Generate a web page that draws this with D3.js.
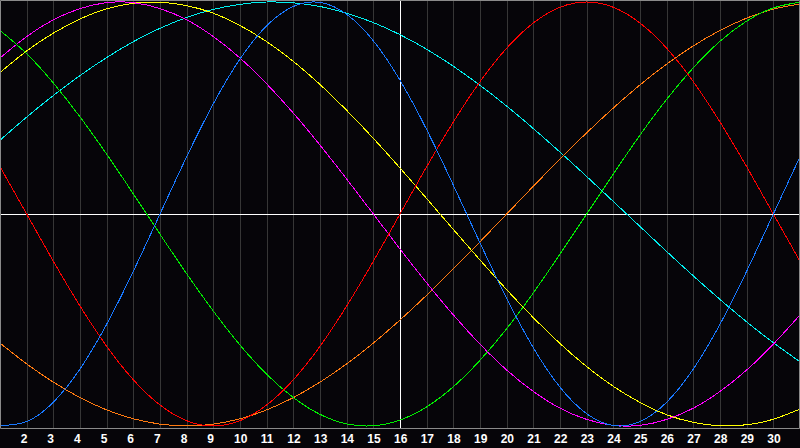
<!DOCTYPE html>
<html lang="en">
<head>
  <meta charset="utf-8" />
  <title>Biorhythm</title>
  <script src="https://d3js.org/d3.v7.min.js"></script>
  <style>
    body {
      margin: 0;
      background: #060509;
    }
    .tick-label {
      font-family: "Liberation Sans", Arial, sans-serif;
      font-size: 12px;
      font-weight: bold;
      fill: #ffffff;
    }
    .curve {
      shape-rendering: crispEdges;
    }
  </style>
</head>
<body>
  <svg width="800" height="448"></svg>
  <script>
    // days of the month shown on the chart
    const days = [1, 2, 3, 4, 5, 6, 7, 8, 9, 10, 11, 12, 13, 14, 15, 16,
      17, 18, 19, 20, 21, 22, 23, 24, 25, 26, 27, 28, 29, 30, 31];
    const tickDays = [2, 3, 4, 5, 6, 7, 8, 9, 10, 11, 12, 13, 14, 15, 16,
      17, 18, 19, 20, 21, 22, 23, 24, 25, 26, 27, 28, 29, 30];
    const today = 16;

    // one value per day (-1 .. 1)
    const physical = [-0.998, -0.979, -0.888, -0.731, -0.520, -0.270, 0, 0.270, 0.520, 0.731, 0.888,
      0.979, 0.998, 0.942, 0.817, 0.631, 0.398, 0.136, -0.136, -0.398, -0.631, -0.817, -0.942,
      -0.998, -0.979, -0.888, -0.731, -0.520, -0.270, 0, 0.270];
    const emotional = [0.223, 0, -0.223, -0.434, -0.624, -0.782, -0.901, -0.975, -1, -0.975, -0.901,
      -0.782, -0.624, -0.434, -0.223, 0, 0.223, 0.434, 0.624, 0.782, 0.901, 0.975, 1, 0.975,
      0.901, 0.782, 0.624, 0.434, 0.223, 0, -0.223];
    const intellectual = [0.866, 0.756, 0.618, 0.458, 0.282, 0.095, -0.095, -0.282, -0.458, -0.618,
      -0.756, -0.866, -0.945, -0.990, -0.999, -0.972, -0.910, -0.815, -0.690, -0.541, -0.372,
      -0.189, 0, 0.189, 0.372, 0.541, 0.690, 0.815, 0.910, 0.972, 0.999];
    const intuitive = [0.736, 0.837, 0.916, 0.969, 0.997, 0.997, 0.969, 0.916, 0.837, 0.736, 0.614,
      0.476, 0.325, 0.165, 0, -0.165, -0.325, -0.476, -0.614, -0.736, -0.837, -0.916, -0.969,
      -0.997, -0.997, -0.969, -0.916, -0.837, -0.736, -0.614, -0.476];
    const aesthetic = [0.667, 0.769, 0.853, 0.920, 0.968, 0.994, 0.999, 0.983, 0.947, 0.889, 0.813,
      0.720, 0.611, 0.489, 0.357, 0.217, 0.073, -0.073, -0.217, -0.357, -0.489, -0.611, -0.720,
      -0.813, -0.889, -0.947, -0.983, -0.999, -0.994, -0.968, -0.920];
    const awareness = [-0.609, -0.707, -0.793, -0.866, -0.924, -0.966, -0.991, -1, -0.991, -0.966,
      -0.924, -0.866, -0.793, -0.707, -0.609, -0.5, -0.383, -0.259, -0.131, 0, 0.131, 0.259,
      0.383, 0.5, 0.609, 0.707, 0.793, 0.866, 0.924, 0.966, 0.991];
    const spiritual = [0.348, 0.457, 0.559, 0.653, 0.738, 0.813, 0.876, 0.927, 0.965, 0.989, 1.000,
      0.996, 0.979, 0.947, 0.903, 0.846, 0.777, 0.697, 0.607, 0.509, 0.403, 0.292, 0.177, 0.059,
      -0.059, -0.177, -0.292, -0.403, -0.509, -0.607, -0.697];

    const seriesNames = ["spiritual", "awareness", "aesthetic", "intuitive", "intellectual", "emotional", "physical"];
    const seriesValues = [spiritual, awareness, aesthetic, intuitive, intellectual, emotional, physical];
    const seriesColors = ["#00f0f0", "#ff7a10", "#ffff00", "#ff00ff", "#00ee00", "#ff0000", "#1878ff"];

    const svg = d3.select("svg");
    const width = 800;
    const plotBottom = 428;

    const x = d3.scaleLinear().domain([1, 31]).range([0, width]);
    const y = d3.scaleLinear().domain([-1, 1]).range([426, 2]);

    svg.append("rect")
      .attr("width", width)
      .attr("height", 448)
      .attr("fill", "#060509");

    // vertical day lines
    svg.append("g")
      .selectAll("line")
      .data(tickDays)
      .join("line")
      .attr("x1", d => Math.round(x(d)) + 0.5)
      .attr("x2", d => Math.round(x(d)) + 0.5)
      .attr("y1", 0)
      .attr("y2", plotBottom)
      .attr("stroke", d => d === today ? "#ffffff" : "#363636")
      .attr("stroke-width", 1);

    // zero line
    svg.append("line")
      .attr("x1", 0)
      .attr("x2", width)
      .attr("y1", Math.round(y(0)) + 0.5)
      .attr("y2", Math.round(y(0)) + 0.5)
      .attr("stroke", "#ffffff")
      .attr("stroke-width", 1);

    // today line on top again
    svg.append("line")
      .attr("x1", Math.round(x(today)) + 0.5)
      .attr("x2", Math.round(x(today)) + 0.5)
      .attr("y1", 0)
      .attr("y2", plotBottom)
      .attr("stroke", "#ffffff");

    const line = d3.line()
      .x((d, i) => x(days[i]))
      .y(d => y(d))
      .curve(d3.curveNatural);

    svg.append("g")
      .selectAll("path")
      .data(seriesValues)
      .join("path")
      .attr("class", (d, i) => "curve " + seriesNames[i])
      .attr("d", line)
      .attr("fill", "none")
      .attr("stroke", (d, i) => seriesColors[i])
      .attr("stroke-width", 1);

    // frame
    svg.append("path")
      .attr("d", `M0.5,${plotBottom + 0.5}V0.5H${width - 0.5}V${plotBottom + 0.5}H0.5`)
      .attr("fill", "none")
      .attr("stroke", "#8a8a8a")
      .attr("stroke-width", 1);

    // day labels
    svg.append("g")
      .selectAll("text")
      .data(tickDays)
      .join("text")
      .attr("class", "tick-label")
      .attr("x", d => x(d) - 6)
      .attr("y", 443)
      .text(d => d);
  </script>
</body>
</html>
